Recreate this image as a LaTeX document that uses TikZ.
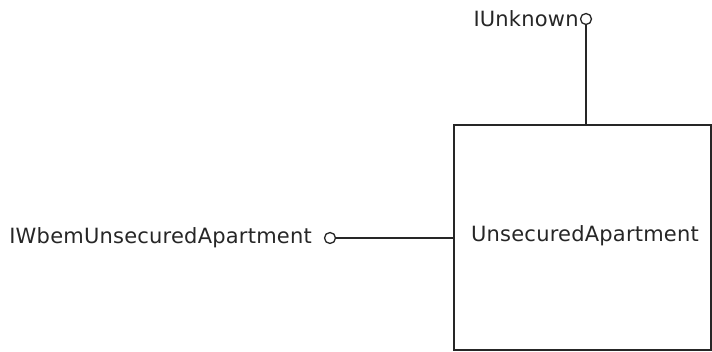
\documentclass[tikz,border=0pt]{standalone}
\usepackage{fontspec}
\setmainfont{DejaVu Sans}[LetterSpace=1]
\begin{document}
\begin{tikzpicture}[x=1pt,y=-1pt,
  lbl/.style={inner sep=0pt, font=\fontsize{21}{24}\selectfont, text=black!85},
  lolli/.style={circle, draw, line width=1.3pt, minimum size=11pt, inner sep=0pt},
  conn/.style={draw, line width=1.4pt, black!85},
  classbox/.style={draw, line width=1.4pt, black!85}]
\useasboundingbox (0,0) rectangle (712,352);
\path[classbox] (454,125) coordinate (boxnw) rectangle (711,350) coordinate (boxse);
\node[lbl] (ua) at (585,236) {UnsecuredApartment};
\coordinate (topattach) at (586,125);
\coordinate (leftattach) at (454,238);
\node[lolli, draw=black!85] (c1) at (586,19) {};
\node[lolli, draw=black!85] (c2) at (330,238) {};
\node[lbl, anchor=east] (iu) at ([xshift=-1pt]c1.west) {IUnknown};
\node[lbl, anchor=east] (iw) at (312,238) {IWbemUnsecuredApartment};
\draw[conn] (c1.south) -- (topattach);
\draw[conn] (c2.east) -- (leftattach);
\end{tikzpicture}
\end{document}
